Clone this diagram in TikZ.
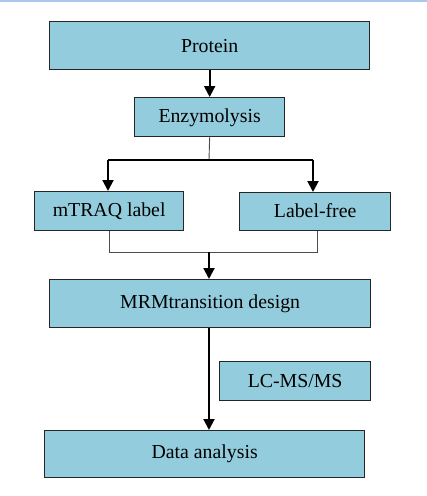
\documentclass[tikz,border=0pt]{standalone}
\usepackage{fontspec}
\setmainfont{Liberation Serif}
\usetikzlibrary{arrows.meta}
\definecolor{boxfill}{HTML}{93CDDD}
\definecolor{topline}{HTML}{A9C8F0}
\tikzset{
  box/.style={draw=black!85, line width=1.3pt, fill=boxfill, inner sep=0pt, anchor=north west,
    font=\fontsize{19.8}{22}\selectfont},
  thick arrow/.style={line width=2pt, -{Triangle[width=11pt,length=11pt]}},
  thickline/.style={line width=2pt},
  thinline/.style={line width=0.9pt, draw=black!70},
}
\begin{document}
\begin{tikzpicture}[x=1pt,y=-1pt]
\useasboundingbox (0,0) rectangle (427,496);
\fill[topline] (0,0) rectangle (427,1.5);
\node[box, minimum width=320pt, minimum height=48pt] (protein) at (49,21) {Protein};
\node[box, minimum width=150pt, minimum height=39pt, text depth=0pt, text height=10pt] (enz) at (134,97) {Enzymolysis};
\node[box, minimum width=149pt, minimum height=39pt, text depth=1pt, text height=12pt] (mtraq) at (34,191) {mTRAQ label};
\node[box, minimum width=151pt, minimum height=38pt, text depth=0pt, text height=12pt] (lfree) at (239,192) {Label-free};
\node[box, minimum width=321pt, minimum height=48pt] (mrm) at (49,279) {MRMtransition design};
\node[box, minimum width=151pt, minimum height=39pt, text depth=0pt, text height=12pt] (lcms) at (219,361) {LC-MS/MS};
\node[box, minimum width=320pt, minimum height=47pt] (data) at (44,430) {Data analysis};
\coordinate (split) at (209,160);
\coordinate (splitL) at (108,160);
\coordinate (splitR) at (313,160);
\coordinate (joinL) at (109,252);
\coordinate (joinR) at (317,252);
\coordinate (join) at (209,252);
\draw[thick arrow] (protein.south) -- (enz.north);
\draw[thinline] (enz.south) -- (split);
\draw[thickline] (splitL) -- (splitR);
\draw[thick arrow] (splitL) -- (splitL |- mtraq.north);
\draw[thick arrow] (splitR) -- (splitR |- lfree.north);
\draw[thinline] (joinL |- mtraq.south) -- (joinL) -- (joinR) -- (joinR |- lfree.south);
\draw[thick arrow] (join) -- (join |- mrm.north);
\draw[thick arrow] (join |- mrm.south) -- (join |- data.north);
\end{tikzpicture}
\end{document}
